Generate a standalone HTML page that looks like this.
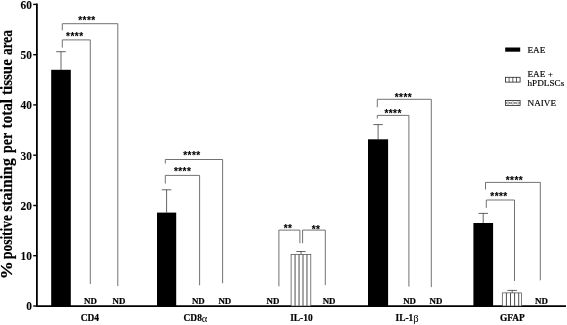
<!DOCTYPE html>
<html><head><meta charset="utf-8"><title>chart</title>
<style>
html,body{margin:0;padding:0;background:#fff;}
body{width:567px;height:325px;overflow:hidden;}
svg{display:block;}
text{font-family:"Liberation Serif",serif;fill:#000;}
.st{font-family:"Liberation Sans",sans-serif;font-weight:bold;stroke:#000;stroke-width:0.12px;}
.lg{stroke:#000;stroke-width:0.15px;}
.gk{font-weight:normal;stroke:none;}
.tk{font-weight:bold;stroke:#000;stroke-width:0.08px;}
.b{font-weight:bold;stroke:#000;stroke-width:0.2px;}
</style></head><body>
<svg width="567" height="325" viewBox="0 0 567 325">
<rect width="567" height="325" fill="#fff"/>

<line x1="36.9" y1="3.6" x2="36.9" y2="306.9" stroke="#000" stroke-width="1.8"/>
<line x1="36.0" y1="306.1" x2="566" y2="306.1" stroke="#000" stroke-width="1.8"/>
<line x1="33.2" y1="306.0" x2="36.9" y2="306.0" stroke="#000" stroke-width="1.4"/>
<text class="tk" transform="translate(31.9,310.3) scale(1,1.09)" font-size="11.4" text-anchor="end">0</text>
<line x1="33.2" y1="255.7" x2="36.9" y2="255.7" stroke="#000" stroke-width="1.4"/>
<text class="tk" transform="translate(31.9,260.0) scale(1,1.09)" font-size="11.4" text-anchor="end">10</text>
<line x1="33.2" y1="205.5" x2="36.9" y2="205.5" stroke="#000" stroke-width="1.4"/>
<text class="tk" transform="translate(31.9,209.8) scale(1,1.09)" font-size="11.4" text-anchor="end">20</text>
<line x1="33.2" y1="155.2" x2="36.9" y2="155.2" stroke="#000" stroke-width="1.4"/>
<text class="tk" transform="translate(31.9,159.5) scale(1,1.09)" font-size="11.4" text-anchor="end">30</text>
<line x1="33.2" y1="104.9" x2="36.9" y2="104.9" stroke="#000" stroke-width="1.4"/>
<text class="tk" transform="translate(31.9,109.2) scale(1,1.09)" font-size="11.4" text-anchor="end">40</text>
<line x1="33.2" y1="54.7" x2="36.9" y2="54.7" stroke="#000" stroke-width="1.4"/>
<text class="tk" transform="translate(31.9,59.0) scale(1,1.09)" font-size="11.4" text-anchor="end">50</text>
<line x1="33.2" y1="4.4" x2="36.9" y2="4.4" stroke="#000" stroke-width="1.4"/>
<text class="tk" transform="translate(31.9,8.7) scale(1,1.09)" font-size="11.4" text-anchor="end">60</text>
<text class="b" transform="translate(12.3,278.6) rotate(-90) scale(1,1.08)" font-size="15"><tspan x="-0.6" textLength="18.2" lengthAdjust="spacingAndGlyphs">%</tspan><tspan> </tspan><tspan x="19.6" textLength="44.0" lengthAdjust="spacingAndGlyphs">positive</tspan><tspan> </tspan><tspan x="66.8" textLength="53.6" lengthAdjust="spacingAndGlyphs">staining</tspan><tspan> </tspan><tspan x="125.6" textLength="20.3" lengthAdjust="spacingAndGlyphs">per</tspan><tspan> </tspan><tspan x="150.2" textLength="29.4" lengthAdjust="spacingAndGlyphs">total</tspan><tspan> </tspan><tspan x="183.6" textLength="35.8" lengthAdjust="spacingAndGlyphs">tissue</tspan><tspan> </tspan><tspan x="223.7" textLength="24.8" lengthAdjust="spacingAndGlyphs">area</tspan></text>
<line x1="61.0" y1="69.8" x2="61.0" y2="51.7" stroke="#222" stroke-width="0.7"/>
<line x1="56.2" y1="51.7" x2="65.8" y2="51.7" stroke="#222" stroke-width="0.7"/>
<rect x="51.2" y="69.8" width="19.6" height="236.2" fill="#000"/>
<polyline points="62.3,47.6 62.3,39.9 90.3,39.9 90.3,284.0" fill="none" stroke="#585858" stroke-width="0.85"/>
<polyline points="62.3,30.4 62.3,23.7 117.8,23.7 117.8,286.1" fill="none" stroke="#585858" stroke-width="0.85"/>
<text class="st" x="74.8" y="40.4" font-size="10" letter-spacing="0.45" text-anchor="middle">****</text>
<text class="st" x="86.9" y="24.4" font-size="10" letter-spacing="0.45" text-anchor="middle">****</text>
<text class="b" x="90.4" y="304.0" font-size="8.9" text-anchor="middle">ND</text>
<text class="b" x="119.0" y="304.0" font-size="8.9" text-anchor="middle">ND</text>
<text class="b" x="89.8" y="320.6" font-size="9.4" text-anchor="middle">CD4</text>
<line x1="166.6" y1="212.6" x2="166.6" y2="189.8" stroke="#222" stroke-width="0.7"/>
<line x1="161.8" y1="189.8" x2="171.3" y2="189.8" stroke="#222" stroke-width="0.7"/>
<rect x="157.0" y="212.6" width="19.2" height="93.4" fill="#000"/>
<polyline points="165.3,183.5 165.3,175.4 199.6,175.4 199.6,285.3" fill="none" stroke="#585858" stroke-width="0.85"/>
<polyline points="165.3,163.5 165.3,159.5 222.6,159.5 222.6,283.3" fill="none" stroke="#585858" stroke-width="0.85"/>
<text class="st" x="182.6" y="174.9" font-size="10" letter-spacing="0.45" text-anchor="middle">****</text>
<text class="st" x="191.9" y="158.6" font-size="10" letter-spacing="0.45" text-anchor="middle">****</text>
<text class="b" x="198.3" y="304.4" font-size="8.9" text-anchor="middle">ND</text>
<text class="b" x="224.8" y="304.4" font-size="8.9" text-anchor="middle">ND</text>
<text class="b" x="183.6" y="320.6" font-size="9.4" text-anchor="start">CD8<tspan class="gk" font-size="10.5" dy="1.1">α</tspan></text>
<line x1="301.0" y1="254.5" x2="301.0" y2="251.5" stroke="#222" stroke-width="0.7"/>
<line x1="296.4" y1="251.5" x2="305.6" y2="251.5" stroke="#222" stroke-width="0.7"/>
<rect x="291.1" y="254.5" width="19.7" height="51.5" fill="#fff" stroke="#444" stroke-width="0.7"/>
<line x1="295.07" y1="254.5" x2="295.07" y2="306.0" stroke="#505050" stroke-width="1"/>
<line x1="299.04" y1="254.5" x2="299.04" y2="306.0" stroke="#505050" stroke-width="1"/>
<line x1="303.01" y1="254.5" x2="303.01" y2="306.0" stroke="#505050" stroke-width="1"/>
<line x1="306.98" y1="254.5" x2="306.98" y2="306.0" stroke="#505050" stroke-width="1"/>
<polyline points="278.9,286.3 278.9,230.1 299.9,230.1 299.9,243.2" fill="none" stroke="#585858" stroke-width="0.85"/>
<polyline points="302.6,243.2 302.6,230.1 325.3,230.1 325.3,285.1" fill="none" stroke="#585858" stroke-width="0.85"/>
<text class="st" x="288.1" y="231.9" font-size="10" letter-spacing="0.45" text-anchor="middle">**</text>
<text class="st" x="316.1" y="232.9" font-size="10" letter-spacing="0.45" text-anchor="middle">**</text>
<text class="b" x="272.9" y="304.4" font-size="8.9" text-anchor="middle">ND</text>
<text class="b" x="329.1" y="304.4" font-size="8.9" text-anchor="middle">ND</text>
<text class="b" x="301.4" y="320.6" font-size="9.4" text-anchor="middle">IL-10</text>
<line x1="378.1" y1="139.3" x2="378.1" y2="124.6" stroke="#222" stroke-width="0.7"/>
<line x1="373.3" y1="124.6" x2="382.8" y2="124.6" stroke="#222" stroke-width="0.7"/>
<rect x="368.0" y="139.3" width="20.1" height="166.7" fill="#000"/>
<polyline points="377.3,118.5 377.3,115.4 408.9,115.4 408.9,286.6" fill="none" stroke="#585858" stroke-width="0.85"/>
<polyline points="377.3,107.3 377.3,99.3 431.3,99.3 431.3,287.1" fill="none" stroke="#585858" stroke-width="0.85"/>
<text class="st" x="393.1" y="116.5" font-size="10" letter-spacing="0.45" text-anchor="middle">****</text>
<text class="st" x="403.4" y="100.6" font-size="10" letter-spacing="0.45" text-anchor="middle">****</text>
<text class="b" x="409.6" y="304.4" font-size="8.9" text-anchor="middle">ND</text>
<text class="b" x="436.0" y="304.4" font-size="8.9" text-anchor="middle">ND</text>
<text class="b" x="395.5" y="320.6" font-size="9.4" text-anchor="start">IL-1<tspan class="gk" font-size="10.5" dy="1.1">β</tspan></text>
<line x1="483.2" y1="223.0" x2="483.2" y2="213.4" stroke="#222" stroke-width="0.7"/>
<line x1="478.5" y1="213.4" x2="488.0" y2="213.4" stroke="#222" stroke-width="0.7"/>
<rect x="473.4" y="223.0" width="19.7" height="83.0" fill="#000"/>
<line x1="512.2" y1="292.9" x2="512.2" y2="290.4" stroke="#222" stroke-width="0.7"/>
<line x1="507.4" y1="290.4" x2="517.0" y2="290.4" stroke="#222" stroke-width="0.7"/>
<rect x="502.3" y="292.9" width="19.3" height="13.1" fill="#fff" stroke="#444" stroke-width="0.7"/>
<line x1="506.40" y1="292.9" x2="506.40" y2="306.0" stroke="#505050" stroke-width="1"/>
<line x1="510.50" y1="292.9" x2="510.50" y2="306.0" stroke="#505050" stroke-width="1"/>
<line x1="514.60" y1="292.9" x2="514.60" y2="306.0" stroke="#505050" stroke-width="1"/>
<line x1="518.70" y1="292.9" x2="518.70" y2="306.0" stroke="#505050" stroke-width="1"/>
<polyline points="486.3,207.9 486.3,200.0 514.5,200.0 514.5,281.0" fill="none" stroke="#585858" stroke-width="0.85"/>
<polyline points="485.5,189.5 485.5,182.4 540.3,182.4 540.3,280.3" fill="none" stroke="#585858" stroke-width="0.85"/>
<text class="st" x="499.0" y="199.7" font-size="10" letter-spacing="0.45" text-anchor="middle">****</text>
<text class="st" x="514.4" y="183.5" font-size="10" letter-spacing="0.45" text-anchor="middle">****</text>
<text class="b" x="541.5" y="304.0" font-size="8.9" text-anchor="middle">ND</text>
<text class="b" x="512.3" y="320.6" font-size="9.4" text-anchor="middle">GFAP</text>
<rect x="505.2" y="47.5" width="15" height="4.2" fill="#000"/>
<text class="lg" x="527.5" y="53" font-size="9.2">EAE</text>
<rect x="505.5" y="77.3" width="14.6" height="4.8" fill="#fff" stroke="#222" stroke-width="0.8"/>
<line x1="509.1" y1="77.3" x2="509.1" y2="82.1" stroke="#222" stroke-width="0.7"/>
<line x1="512.8" y1="77.3" x2="512.8" y2="82.1" stroke="#222" stroke-width="0.7"/>
<line x1="516.5" y1="77.3" x2="516.5" y2="82.1" stroke="#222" stroke-width="0.7"/>
<text class="lg" x="527.5" y="77.3" font-size="9.2">EAE +</text>
<text class="lg" x="527.5" y="86.3" font-size="9.2">hPDLSCs</text>
<rect x="505.5" y="100.5" width="14.6" height="4.9" fill="#fff" stroke="#222" stroke-width="0.8"/>
<line x1="505.5" y1="103" x2="520.1" y2="103" stroke="#666" stroke-width="1.2"/>
<ellipse cx="507.9" cy="103" rx="1.5" ry="1.1" fill="#fff" stroke="#555" stroke-width="0.5"/>
<ellipse cx="512.8" cy="103" rx="1.5" ry="1.1" fill="#fff" stroke="#555" stroke-width="0.5"/>
<ellipse cx="517.7" cy="103" rx="1.5" ry="1.1" fill="#fff" stroke="#555" stroke-width="0.5"/>
<text class="lg" x="527.5" y="106.3" font-size="9.2">NAIVE</text>
</svg></body></html>
